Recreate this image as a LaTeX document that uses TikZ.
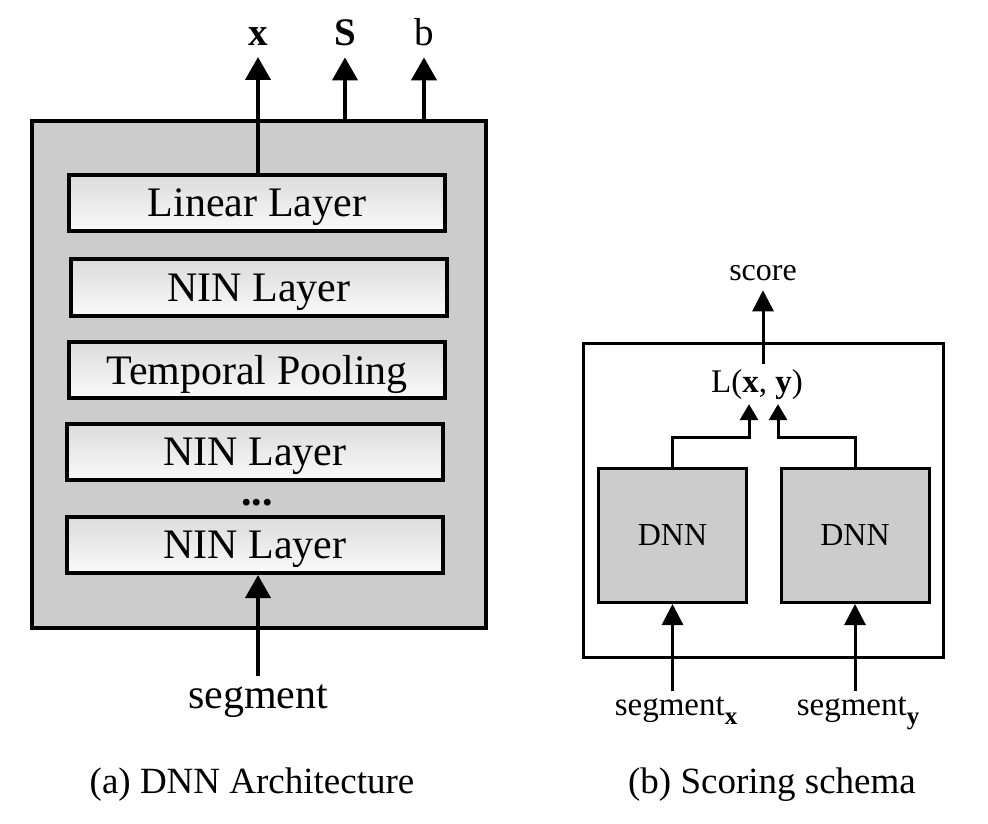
\documentclass[tikz,border=0pt]{standalone}
\usepackage{fontspec}
\setmainfont{Liberation Serif}
\usetikzlibrary{arrows.meta,calc}
\tikzstyle{layer}=[draw,line width=2pt,top color=black!14,bottom color=black!2,minimum width=188pt,minimum height=28pt,inner sep=0pt,text depth=0pt,font=\fontsize{21}{25}\selectfont]
\tikzstyle{dnn}=[draw,line width=1.5pt,fill=black!20,minimum width=74pt,minimum height=67pt,font=\fontsize{16}{19}\selectfont]
\tikzstyle{lab}=[inner sep=0pt,outer sep=2.5pt,anchor=base]
\tikzstyle{outlab}=[lab,outer sep=5.5pt,font=\fontsize{19.5}{23}\selectfont]
\tikzstyle{arr}=[line width=2pt,-{Triangle[length=11.5pt,width=12.5pt]}]
\tikzstyle{arrs}=[line width=1.5pt,-{Triangle[length=10.5pt,width=10.5pt]}]
\tikzstyle{arrt}=[line width=1.5pt,-{Triangle[length=8pt,width=9pt]}]
\newcommand{\segsub}[1]{\raisebox{-4.5pt}{\fontsize{12.5}{14}\selectfont\textbf{#1}}}

\begin{document}
\begin{tikzpicture}[x=0.5pt,y=-0.5pt]
\useasboundingbox (0,0) rectangle (988,823);
% (a) DNN architecture
\node[draw,line width=2.25pt,fill=black!20,minimum width=227pt,minimum height=253.5pt] (arch) at (259,374.5) {};
\node[layer] (lin) at (257,203) {Linear Layer};
\node[layer] (nin1) at (259,287.5) {NIN Layer};
\node[layer] (pool) at (257,369.5) {Temporal Pooling};
\node[layer] (nin2) at (255,452) {NIN Layer};
\node[lab,font=\fontsize{21}{25}\selectfont\bfseries] (dots) at (257,505) {...};
\node[layer] (nin3) at (255,545) {NIN Layer};
% outputs
\node[outlab] (xo) at (258,46) {\textbf{x}};
\node[outlab] (so) at (345,46) {\textbf{S}};
\node[outlab] (bo) at (424,46) {b};
\draw[arr] (lin.north -| xo) -- (xo.south);
\draw[arr] (arch.north -| so) -- (so.south);
\draw[arr] (arch.north -| bo) -- (bo.south);
% input
\node[lab,outer sep=4pt,font=\fontsize{21}{25}\selectfont] (seg) at (258,708) {segment};
\draw[arr] (seg.north) -- (seg.north |- nin3.south);
\node[lab,font=\fontsize{18.5}{22}\selectfont] (capa) at (252,793) {(a) DNN Architecture};
% (b) scoring schema
\node[draw,line width=1.5pt,minimum width=180pt,minimum height=157pt] (scoring) at (763.5,500.5) {};
\node[dnn] (dnna) at (672.5,535.5) {DNN};
\node[dnn] (dnnb) at (855,535.5) {DNN};
\node[lab,font=\fontsize{16.5}{20}\selectfont] (loss) at (757,392) {L(\textbf{x}, \textbf{y})};
\node[lab,outer sep=5pt,font=\fontsize{16}{19}\selectfont] (score) at (763,280) {score};
\coordinate (ja) at (749,437);
\coordinate (jb) at (778,437);
\draw[arrt] (dnna.north) |- (ja) -- (ja |- loss.south);
\draw[arrt] (dnnb.north) |- (jb) -- (jb |- loss.south);
\draw[arrs] (loss.north -| score) -- (score.south);
\node[lab,font=\fontsize{16.5}{20}\selectfont] (segx) at (676,715) {segment\segsub{x}};
\node[lab,font=\fontsize{16.5}{20}\selectfont] (segy) at (858,715) {segment\segsub{y}};
\draw[arrs] (segx.north -| dnna) -- (dnna.south);
\draw[arrs] (segy.north -| dnnb) -- (dnnb.south);
\node[lab,font=\fontsize{18.5}{22}\selectfont] (capb) at (772,793) {(b) Scoring schema};
\end{tikzpicture}
\end{document}
